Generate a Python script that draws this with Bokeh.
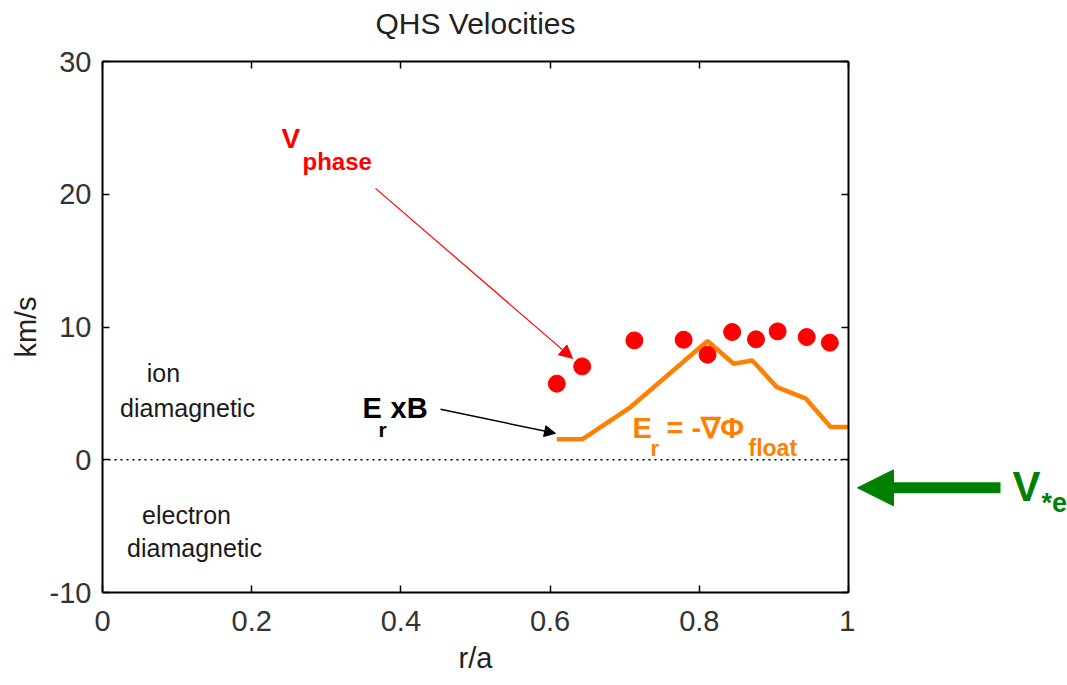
import math
from bokeh.plotting import figure
from bokeh.layouts import row, column
from bokeh.models import (Range1d, LinearAxis, FixedTicker, Label, Arrow,
                          NormalHead)
from bokeh.embed import file_html
from bokeh.resources import INLINE

# ---- data ----
phase_r = [0.609, 0.643, 0.713, 0.779, 0.811, 0.844, 0.876, 0.905, 0.944, 0.975]
phase_v = [5.73, 7.03, 8.99, 9.04, 7.91, 9.62, 9.07, 9.67, 9.24, 8.82]
er_r = [0.609, 0.643, 0.708, 0.811, 0.846, 0.871, 0.904, 0.943, 0.976, 1.0]
er_v = [1.54, 1.54, 3.97, 8.94, 7.23, 7.48, 5.47, 4.60, 2.46, 2.46]
x_ticks = [0, 0.2, 0.4, 0.6, 0.8, 1.0]
y_ticks = [-10, 0, 10, 20, 30]
zero_r = [0, 1]
zero_v = [0, 0]
title_text = "QHS Velocities"

FONT = "Liberation Sans"
TICK_COLOR = "#333333"
ORANGE = "#FF8000"
RED = "#FF0000"
GREEN = "#008000"

W, H = 1067, 685
L, T, B = 102, 61, 93
TITLE_H = 40           # height of the title strip
TOP_PAD = T - TITLE_H  # remaining border above the frame
FRAME_R = 848          # right edge of the main frame (px)
W1 = 855               # width of the main figure
PXPU_X = FRAME_R - L   # pixels per x unit
Y0_PX = 459.4          # pixel row of y = 0


def dx(px):
    return (px - L) / PXPU_X


def dy(py):
    return (Y0_PX - py) * 40.0 / (H - T - B)


# ---- title strip ----
pt = figure(width=W, height=TITLE_H, output_backend="svg", toolbar_location=None,
            x_range=Range1d(dx(0), dx(W)), y_range=Range1d(0, TITLE_H),
            x_axis_location=None, y_axis_location=None,
            min_border_left=0, min_border_right=0, min_border_top=0,
            min_border_bottom=0)
pt.grid.visible = False
pt.outline_line_color = None
pt.background_fill_color = "white"
pt.border_fill_color = "white"
pt.add_layout(Label(x=dx(475), y=TITLE_H - 22.5, text=title_text, text_font=FONT,
                    text_font_size="30px", text_color="#222222",
                    text_align="center", text_baseline="middle"))

# ---- main plot ----
p = figure(width=W1, height=H - TITLE_H, output_backend="svg",
           toolbar_location=None,
           x_range=Range1d(0, 1), y_range=Range1d(-10, 30),
           x_axis_location=None, y_axis_location=None,
           min_border_left=L, min_border_right=W1 - FRAME_R,
           min_border_top=TOP_PAD, min_border_bottom=B)
p.grid.visible = False
p.outline_line_color = None
p.background_fill_color = "white"
p.border_fill_color = "white"


def style_axis(ax):
    ax.axis_line_color = "black"
    ax.axis_line_width = 2
    ax.major_tick_in = 7
    ax.major_tick_out = 0
    ax.major_tick_line_color = "black"
    ax.major_tick_line_width = 1.5
    ax.minor_tick_line_color = None
    ax.major_label_text_font = FONT
    ax.major_label_text_font_size = "29px"
    ax.major_label_text_color = TICK_COLOR
    ax.axis_label_text_font = FONT
    ax.axis_label_text_font_size = "29px"
    ax.axis_label_text_font_style = "normal"
    ax.axis_label_text_color = "#222222"


xb = LinearAxis(ticker=FixedTicker(ticks=x_ticks), axis_label="r/a")
style_axis(xb)
xb.major_label_overrides = {0: "0", 1.0: "1"}
xb.major_label_standoff = 18
xb.axis_label_standoff = 8
p.add_layout(xb, "below")

xt = LinearAxis(ticker=FixedTicker(ticks=x_ticks))
style_axis(xt)
xt.major_label_overrides = {t: "" for t in x_ticks}
xt.major_label_standoff = 0
xt.major_label_text_font_size = "1px"
p.add_layout(xt, "above")

yl = LinearAxis(ticker=FixedTicker(ticks=y_ticks), axis_label="km/s")
style_axis(yl)
yl.major_label_overrides = {-10: "-10"}
yl.major_label_standoff = 11
yl.axis_label_standoff = 5
p.add_layout(yl, "left")

yr = LinearAxis(ticker=FixedTicker(ticks=y_ticks))
style_axis(yr)
yr.major_label_overrides = {t: "" for t in y_ticks}
yr.major_label_standoff = 0
yr.major_label_text_font_size = "1px"
p.add_layout(yr, "right")

# zero line
p.line(zero_r, zero_v, line_color="black", line_width=1.5, line_dash="2 4")

# Er line
p.line(er_r, er_v, line_color=ORANGE, line_width=4.5)

# Vphase points
p.scatter(phase_r, phase_v, size=17, color=RED, marker="circle")


def lab(fig, text, px, py, size, color="#1a1a1a", bold=False, align="left"):
    # py is the pixel row of the text's vertical middle
    fig.add_layout(Label(x=dx(px), y=dy(py), text=text, text_font=FONT,
                         text_font_size=f"{size}px", text_color=color,
                         text_font_style="bold" if bold else "normal",
                         text_align=align, text_baseline="middle"))


# region labels
lab(p, "ion", 163, 373, 25, align="center")
lab(p, "diamagnetic", 187, 408, 25, align="center")
lab(p, "electron", 186, 515, 25, align="center")
lab(p, "diamagnetic", 194, 548, 25, align="center")

# V_phase
lab(p, "V", 281, 138, 28, color=RED, bold=True)
lab(p, "phase", 302, 161.5, 24, color=RED, bold=True)

# ExB
lab(p, "E", 362, 408, 29, color="black", bold=True)
lab(p, "r", 378, 429.5, 21, color="black", bold=True)
lab(p, "xB", 390, 408, 29, color="black", bold=True)

# Er = -grad phi float
lab(p, "E", 632, 427.5, 29, color=ORANGE, bold=True)
lab(p, "r", 650, 448, 22, color=ORANGE, bold=True)
lab(p, "= -\u2207\u03a6", 666, 427.5, 29, color=ORANGE, bold=True)
lab(p, "float", 748, 448, 23, color=ORANGE, bold=True)

# arrows inside the frame
p.add_layout(Arrow(x_start=dx(375), y_start=dy(188), x_end=dx(572), y_end=dy(358),
                   line_color=RED, line_width=1.2,
                   end=NormalHead(size=13, fill_color=RED, line_color=RED)))
p.add_layout(Arrow(x_start=dx(440), y_start=dy(409), x_end=dx(555), y_end=dy(433),
                   line_color="black", line_width=1.5,
                   end=NormalHead(size=11, fill_color="black", line_color="black")))

# right-hand panel for the V*e marker (continues the same scale)
p2 = figure(width=W - W1, height=H - TITLE_H, output_backend="svg",
            toolbar_location=None,
            x_range=Range1d(dx(W1), dx(W)), y_range=Range1d(-10, 30),
            x_axis_location=None, y_axis_location=None,
            min_border_left=0, min_border_right=0,
            min_border_top=TOP_PAD, min_border_bottom=B)
p2.grid.visible = False
p2.outline_line_color = None
p2.background_fill_color = "white"
p2.border_fill_color = "white"

p2.add_layout(Arrow(x_start=dx(1000), y_start=dy(487.5), x_end=dx(857), y_end=dy(487.5),
                    line_color=GREEN, line_width=11,
                    end=NormalHead(size=36, fill_color=GREEN, line_color=GREEN,
                                   line_width=1)))
lab(p2, "V", 1012, 486, 42, color=GREEN, bold=True)
lab(p2, "*e", 1041, 502.5, 27, color=GREEN, bold=True)

layout = column(pt, row(p, p2, spacing=0), spacing=0)
open("out.html", "w").write(file_html(layout, INLINE))
